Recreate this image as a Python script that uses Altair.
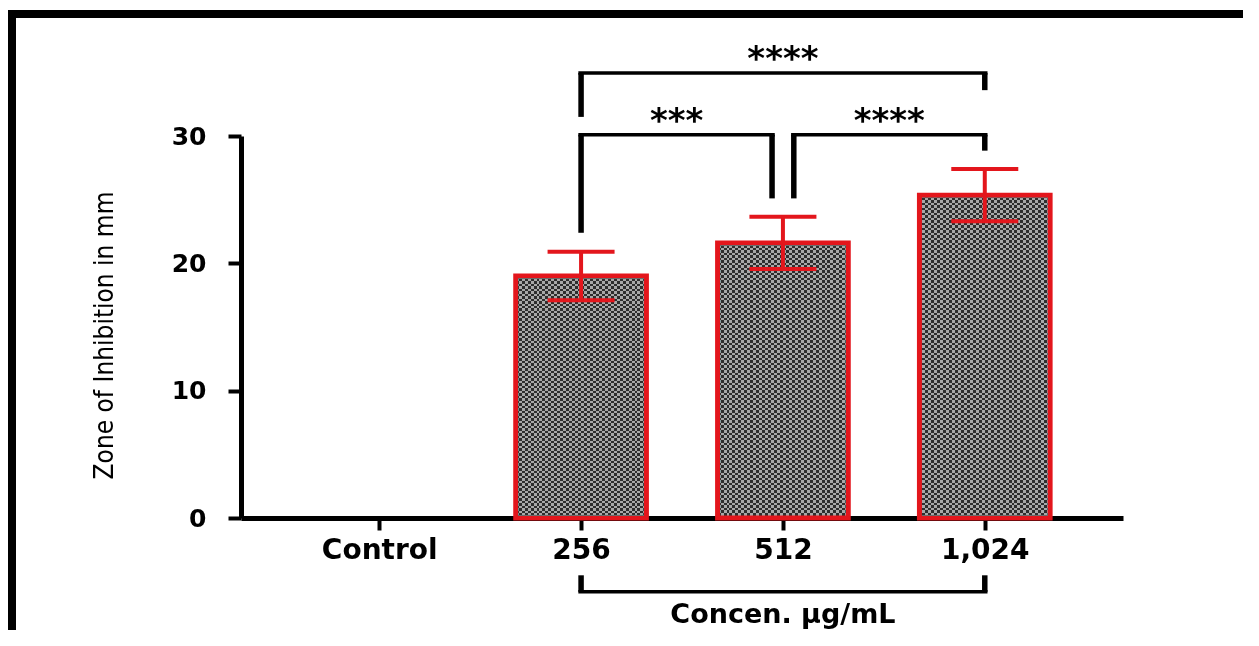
import altair as alt
import pandas as pd

# ---------------- data ----------------
categories = ["Control", "256", "512", "1,024"]
means = [0.0, 19.0, 21.6, 25.35]
errors = [0.0, 1.9, 2.05, 2.05]

y_ticks = [0, 10, 20, 30]
y_title = "Zone of Inhibition in mm"

# significance comparisons (bracket level and leg ends in data units)
comp_left = ["256", "256", "512"]
comp_right = ["1,024", "512", "1,024"]
comp_level = [34.95, 30.1, 30.1]
comp_leg_left = [31.5, 22.4, 25.1]
comp_leg_right = [33.6, 25.1, 28.85]
comp_label = ["****", "***", "****"]

# grouping bracket under the x axis
group_left = "256"
group_right = "1,024"
group_level = -5.8
group_leg = -4.5
group_label = "Concen. µg/mL"

# ---------------- layout / style ----------------
RED = "#e3161c"
W, H = 882, 382
YMAX = 30
PI, PO = 0.36, 0.34
PAD = {"left": 233, "top": 128, "right": 120, "bottom": 112}
n = len(categories)
step = W / (n - PI + 2 * PO)
BW = step * (1 - PI)
c0 = step * (PO + (1 - PI) / 2)
px = 1.0 / step
x_dom = [-c0 / step, (W - c0) / step]
idx = {c: i for i, c in enumerate(categories)}

bar_df = pd.DataFrame({"cat": categories, "mean": means, "err": errors})
bar_df["i"] = [idx[c] for c in bar_df["cat"]]
bar_df["lo"] = bar_df["mean"] - bar_df["err"]
bar_df["hi"] = bar_df["mean"] + bar_df["err"]
bar_df["zero"] = 0.0
bar_df = bar_df[bar_df["mean"] > 0].reset_index(drop=True)

yscale = alt.Scale(domain=[0, YMAX], nice=False, zero=True)
xq = alt.Scale(domain=x_dom, nice=False, zero=False)

label_expr = "[" + ",".join("'%s'" % c for c in categories) + "][datum.value]"
x_axis = alt.Axis(
    title=None, values=list(range(n)), labelExpr=label_expr, labelAngle=0,
    labelFont="DejaVu Sans", labelFontWeight="bold", labelFontSize=28,
    labelColor="black", labelPadding=6, tickSize=12, tickWidth=4,
    tickColor="black", domainWidth=5, domainColor="black", grid=False,
    labelFlush=False, labelOverlap=False,
)
y_axis = alt.Axis(
    title=y_title, values=y_ticks, labelFont="DejaVu Sans", labelFontWeight="bold",
    labelFontSize=25, labelColor="black", labelPadding=22, tickSize=13,
    tickWidth=4, tickColor="black", domainWidth=5, domainColor="black",
    grid=False, titleFont="DejaVu Sans Condensed, Liberation Sans, sans-serif",
    titleFontSize=26, titleFontWeight=500, titleColor="black", titleAngle=270,
    titleX=-137, titleY=199, titleAlign="center", titleBaseline="middle",
    labelFlush=False,
)


def X(field):
    return alt.X(field, scale=xq, axis=x_axis)


def Y(field):
    return alt.Y(field, scale=yscale, axis=y_axis)


# ---- checkered fill: vertical stripes + horizontal stripes with difference blend
DARK, LIGHT, SWAP = "#2e2e2e", "#a8a8a8", "#d6d6d6"


def stripes(c1, c2, count):
    stops = []
    for s in range(count):
        col = c1 if s % 2 == 0 else c2
        stops.append(alt.GradientStop(color=col, offset=s / count))
        stops.append(alt.GradientStop(color=col, offset=(s + 1) / count))
    return stops


x_grad = alt.LinearGradient(
    gradient="linear", stops=stripes(DARK, LIGHT, int(round(BW / 3))),
    x1=0, x2=1, y1=0, y2=0,
)

base = alt.Chart(bar_df)
bars = base.mark_bar(fill=x_grad, stroke=RED, strokeWidth=5, width=BW).encode(
    x=X("i:Q"), y=Y("mean:Q"), y2="zero:Q",
)

overlays = []
for k in range(len(bar_df)):
    h_px = bar_df.loc[k, "mean"] / YMAX * H - 5
    rows = max(2, int(round(h_px / 2.5)))
    y_grad = alt.LinearGradient(
        gradient="linear", stops=stripes(SWAP, "#000000", rows),
        x1=0, x2=0, y1=0, y2=1,
    )
    overlays.append(
        alt.Chart(bar_df.iloc[[k]]).mark_bar(
            fill=y_grad, width=BW - 5, yOffset=2.5, y2Offset=-2.5, blend="difference"
        ).encode(x=X("i:Q"), y=Y("mean:Q"), y2="zero:Q")
    )

err_rule = base.mark_rule(color=RED, strokeWidth=4).encode(
    x=X("i:Q"), y=Y("lo:Q"), y2="hi:Q",
)
cap_hi = base.mark_tick(color=RED, thickness=4, size=67, opacity=1, orient="horizontal").encode(
    x=X("i:Q"), y=Y("hi:Q"),
)
cap_lo = base.mark_tick(color=RED, thickness=4, size=67, opacity=1, orient="horizontal").encode(
    x=X("i:Q"), y=Y("lo:Q"),
)

# ---------------- brackets ----------------
gap = 11 * px
hw = 2.75 * px
seg_rows, txt_rows = [], []
for k in range(len(comp_left)):
    l, r, lev = idx[comp_left[k]], idx[comp_right[k]], comp_level[k]
    l_off = gap if any(comp_right[j] == comp_left[k] and comp_level[j] == lev
                       for j in range(len(comp_left)) if j != k) else 0.0
    r_off = -gap if any(comp_left[j] == comp_right[k] and comp_level[j] == lev
                        for j in range(len(comp_left)) if j != k) else 0.0
    xl, xr = l + l_off, r + r_off
    seg_rows.append({"x": xl - hw, "x2": xr + hw, "y": lev, "y2": lev, "w": 3.5})
    seg_rows.append({"x": xl, "x2": xl, "y": comp_leg_left[k], "y2": lev, "w": 5.5})
    seg_rows.append({"x": xr, "x2": xr, "y": comp_leg_right[k], "y2": lev, "w": 5.5})
    txt_rows.append({"x": (xl + xr) / 2, "y": lev, "t": comp_label[k]})

gl, gr = idx[group_left], idx[group_right]
seg_rows.append({"x": gl - hw, "x2": gr + hw, "y": group_level, "y2": group_level, "w": 3.5})
seg_rows.append({"x": gl, "x2": gl, "y": group_leg, "y2": group_level, "w": 5.5})
seg_rows.append({"x": gr, "x2": gr, "y": group_leg, "y2": group_level, "w": 5.5})
seg_df = pd.DataFrame(seg_rows)
txt_df = pd.DataFrame(txt_rows)
grp_df = pd.DataFrame([{"x": (gl + gr) / 2, "y": group_level, "t": group_label}])

brackets = alt.Chart(seg_df).mark_rule(color="black").encode(
    x=X("x:Q"), x2="x2:Q", y=Y("y:Q"), y2="y2:Q",
    strokeWidth=alt.StrokeWidth("w:Q", scale=None, legend=None),
)
stars = alt.Chart(txt_df).mark_text(
    font="DejaVu Sans", fontWeight="bold", fontSize=34, baseline="alphabetic",
    align="center", dy=-3, color="black",
).encode(x=X("x:Q"), y=Y("y:Q"), text="t:N")
group_text = alt.Chart(grp_df).mark_text(
    font="DejaVu Sans", fontWeight="bold", fontSize=27, baseline="alphabetic",
    align="center", dy=31, color="black",
).encode(x=X("x:Q"), y=Y("y:Q"), text="t:N")

# decorative frame
one = alt.Data(values=[{"a": 1}])
frame_left = alt.Chart(one).mark_rule(color="black", strokeWidth=8).encode(
    x=alt.value(4 - PAD["left"]), y=alt.value(2 - PAD["top"]),
    y2=alt.value(H + PAD["bottom"] + 10),
)
frame_top = alt.Chart(one).mark_rule(color="black", strokeWidth=8).encode(
    x=alt.value(-PAD["left"]), x2=alt.value(W + PAD["right"] + 10),
    y=alt.value(6 - PAD["top"]),
)

chart = (
    alt.layer(bars, *overlays, err_rule, cap_hi, cap_lo, brackets, stars,
              group_text, frame_left, frame_top)
    .properties(width=W, height=H, padding=PAD, background="white",
                autosize=alt.AutoSizeParams(type="none"))
    .configure_view(strokeWidth=0)
)

chart.save("out.html", embed_options={"renderer": "svg", "actions": False})
